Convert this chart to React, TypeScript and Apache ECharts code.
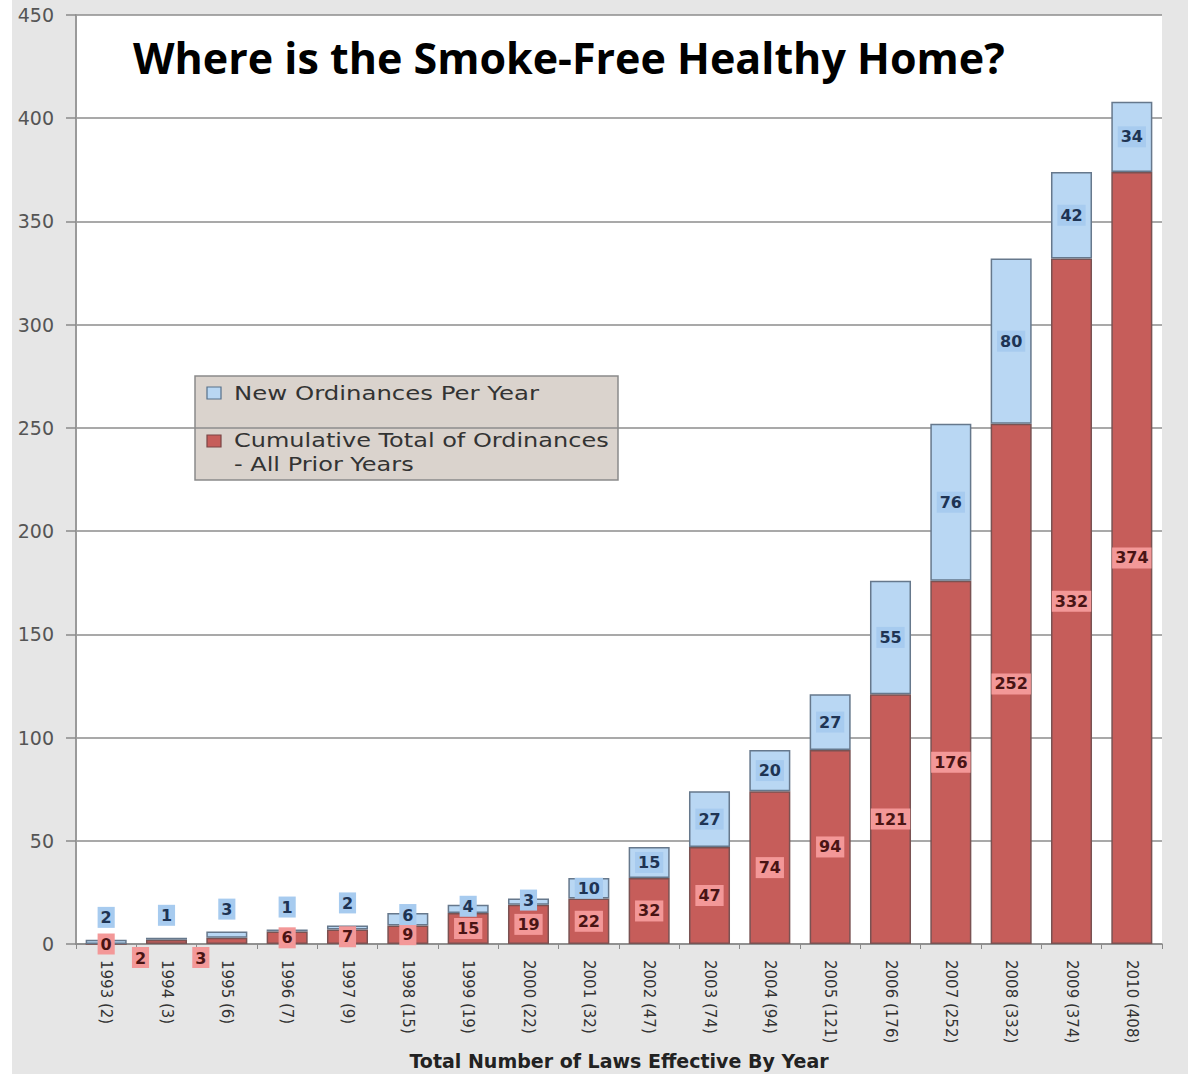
import React, { useEffect, useRef } from "react";
import * as echarts from "echarts";

const years = ["1993","1994","1995","1996","1997","1998","1999","2000","2001","2002","2003","2004","2005","2006","2007","2008","2009","2010"];
const totals = [2,3,6,7,9,15,19,22,32,47,74,94,121,176,252,332,374,408];
const priorTotals = [0,2,3,6,7,9,15,19,22,32,47,74,94,121,176,252,332,374];
const newPerYear = [2,1,3,1,2,6,4,3,10,15,27,20,27,55,76,80,42,34];
const yMin = 0;
const yMax = 450;
const yStep = 50;

const titleText = "Where is the Smoke-Free Healthy Home?";
const axisTitle = "Total Number of Laws Effective By Year";
const legendNew = "New Ordinances Per Year";
const legendCum = ["Cumulative Total of Ordinances", "- All Prior Years"];

const FONT = "DejaVu Sans";

export default function App() {
  const ref = useRef<HTMLDivElement>(null);
  useEffect(() => {
    document.body.style.margin = "0";
    if (!ref.current) return;
    const chart = echarts.init(ref.current, null, { renderer: "svg" });
    const categories = years.map((y, i) => `${y} (${totals[i]})`);

    const redLabelBase = {
      show: true,
      position: "inside",
      fontFamily: FONT,
      fontSize: 16,
      fontWeight: "bold",
      color: "#4a1414",
      backgroundColor: "#f39898",
      padding: [3, 3, 2, 3],
    };
    const blueLabelBase = {
      show: true,
      position: "inside",
      fontFamily: FONT,
      fontSize: 16,
      fontWeight: "bold",
      color: "#1e3454",
      backgroundColor: "#a7cbef",
      padding: [3, 3, 2, 3],
    };

    const redData = priorTotals.map((v) => ({
      value: v,
      label: v > 0 && v < 5 ? { position: "bottom", distance: 3, offset: [-26, 0] } : {},
    }));
    const blueData = newPerYear.map((v, i) => {
      let label = {};
      if (totals[i] < 10) label = { position: "top", distance: 12 };
      else if (v < 10) label = { position: "top", distance: -12 };
      return { value: v, label };
    });

    chart.setOption({
      animation: false,
      backgroundColor: "#e6e6e6",
      grid: {
        left: 76,
        right: 26,
        top: 15,
        bottom: 142,
        show: true,
        backgroundColor: "#ffffff",
        borderWidth: 0,
      },
      xAxis: {
        type: "category",
        data: categories,
        axisLine: { lineStyle: { color: "#8a8a8a", width: 1.5 } },
        axisTick: { show: true, length: 5, lineStyle: { color: "#8a8a8a" } },
        axisLabel: {
          rotate: -90,
          interval: 0,
          margin: 16,
          fontFamily: FONT,
          fontSize: 15,
          color: "#333333",
        },
        name: axisTitle,
        nameLocation: "middle",
        nameGap: 106,
        nameTextStyle: {
          fontFamily: FONT,
          fontSize: 19,
          fontWeight: "bold",
          color: "#222222",
        },
      },
      yAxis: {
        type: "value",
        min: yMin,
        max: yMax,
        interval: yStep,
        axisLine: { show: true, lineStyle: { color: "#9a9a9a", width: 2 } },
        axisTick: { show: true, length: 10, lineStyle: { color: "#8a8a8a", width: 1.5 } },
        axisLabel: {
          margin: 22,
          fontFamily: FONT,
          fontSize: 19,
          color: "#555555",
        },
        splitLine: { lineStyle: { color: "#8c8c8c", width: 1.5 } },
      },
      series: [
        {
          name: legendCum.join("\n"),
          type: "bar",
          stack: "total",
          barWidth: "68%",
          itemStyle: { color: "#c65d5a", borderColor: "#7a5252", borderWidth: 1.5 },
          label: redLabelBase,
          data: redData,
        },
        {
          name: legendNew,
          type: "bar",
          stack: "total",
          barWidth: "68%",
          itemStyle: { color: "#b9d7f3", borderColor: "#66788c", borderWidth: 1.5 },
          label: blueLabelBase,
          data: blueData,
        },
      ],
      graphic: [
        { type: "rect", left: 0, top: 0, shape: { width: 12, height: 1086 }, style: { fill: "#ffffff" }, silent: true },
        { type: "rect", left: 0, top: 1074, shape: { width: 1188, height: 12 }, style: { fill: "#ffffff" }, silent: true },
        {
          type: "text",
          x: 133,
          y: 57,
          style: {
            text: titleText,
            fontFamily: "Open Sans",
            fontWeight: "bold",
            fontSize: 43,
            fill: "#000000",
            verticalAlign: "middle",
            align: "left",
          },
        },
        {
          type: "group",
          children: [
            {
              type: "rect",
              shape: { x: 195, y: 376, width: 423, height: 104 },
              style: { fill: "#dad3cd", stroke: "#8a8a8a", lineWidth: 1.5 },
            },
            {
              type: "rect",
              shape: { x: 207, y: 387, width: 14, height: 12 },
              style: { fill: "#b9d7f3", stroke: "#56708a", lineWidth: 1.2 },
            },
            {
              type: "rect",
              shape: { x: 207, y: 435, width: 14, height: 12 },
              style: { fill: "#c65d5a", stroke: "#7a4545", lineWidth: 1.2 },
            },
            {
              type: "text",
              x: 234,
              y: 393,
              scaleX: 1.22,
              style: { text: legendNew, fontFamily: FONT, fontSize: 20, fill: "#333333", verticalAlign: "middle" },
            },
            {
              type: "text",
              x: 234,
              y: 440,
              scaleX: 1.2,
              style: { text: legendCum[0], fontFamily: FONT, fontSize: 20, fill: "#333333", verticalAlign: "middle" },
            },
            {
              type: "text",
              x: 234,
              y: 464,
              scaleX: 1.2,
              style: { text: legendCum[1], fontFamily: FONT, fontSize: 20, fill: "#333333", verticalAlign: "middle" },
            },
          ],
        },
      ],
    });
    return () => chart.dispose();
  }, []);
  return <div ref={ref} style={{ width: 1188, height: 1086 }} />;
}
